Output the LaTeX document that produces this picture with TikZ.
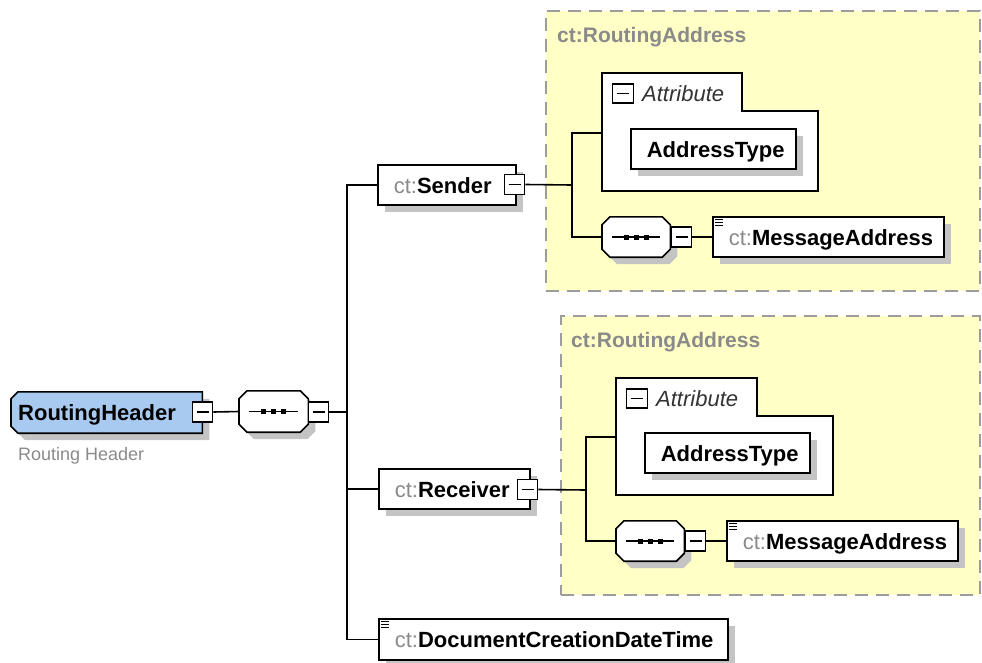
\documentclass[tikz,border=0pt]{standalone}
\usepackage{fontspec}
\setmainfont{Liberation Sans}
\usepackage{tikz}
\usetikzlibrary{shadows,backgrounds}
\definecolor{ShadowGray}{HTML}{C4C4C4}
\definecolor{PaleYellow}{HTML}{FFFFC6}
\definecolor{RootBlue}{HTML}{A8CAF0}
\definecolor{FrameGray}{HTML}{9C9C9C}
\definecolor{PrefixGray}{HTML}{8A8A8A}
\newcommand{\ctp}{\textcolor{PrefixGray}{\mdseries ct:}}

\tikzset{
  shade/.style={drop shadow={shadow xshift=7pt,shadow yshift=-7pt,fill=ShadowGray,opacity=1}},
  elemtext/.style={anchor=west,minimum height=40pt,inner xsep=16pt,inner ysep=0pt,align=left,
    font=\bfseries\fontsize{22}{26}\selectfont,text height=16pt,text depth=0pt},
  elem/.style={elemtext,draw,fill=white,shade,line width=1.6pt},
  seqbox/.style={anchor=west,minimum width=68pt,minimum height=40pt,inner sep=0pt},
  outline/.style={draw,fill=white,shade,line width=1.6pt},
  fold/.style={draw,fill=white,line width=1.4pt,minimum width=20pt,minimum height=20pt,inner sep=0pt,anchor=west},
  group/.style={draw=FrameGray,fill=PaleYellow,line width=1.8pt,dash pattern=on 13pt off 8pt,anchor=north west,inner sep=0pt},
  grouplabel/.style={anchor=west,inner sep=0pt,text=PrefixGray,font=\bfseries\fontsize{21}{25}\selectfont},
  attrbox/.style={draw,fill=white,line width=1.6pt},
  attrlabel/.style={anchor=west,inner sep=0pt,text=black!80,font=\itshape\fontsize{22}{26}\selectfont},
  conn/.style={line width=1.6pt},
}

\begin{document}
\begin{tikzpicture}[x=1pt,y=-1pt,line join=miter]
    \useasboundingbox (0,0) rectangle (982,662);

    % groups of the complex type
    \node[group,minimum width=434pt,minimum height=280pt] (grpA) at (545,10) {};
    \node[group,minimum width=419pt,minimum height=279pt] (grpB) at (560,315) {};
    \node[grouplabel] (grpAlbl) at (557,37) {ct:RoutingAddress};
    \node[grouplabel] (grpBlbl) at (571,342) {ct:RoutingAddress};

    % attribute frames
    \draw[attrbox] (602,73) -- (742,73) -- (742,111) -- (818,111) -- (818,191) -- (602,191) -- cycle;
    \draw[attrbox] (616,378) -- (757,378) -- (757,416) -- (833,416) -- (833,495) -- (616,495) -- cycle;
    \coordinate (attrA) at (602,133);
    \coordinate (attrB) at (616,437);
    \node[fold,minimum width=21pt,minimum height=19pt] (attrAm) at (612,93.5) {\rule{12pt}{1.4pt}};
    \node[fold,minimum width=21pt,minimum height=19pt] (attrBm) at (626,398.5) {\rule{12pt}{1.4pt}};
    \node[attrlabel] (attrAtxt) at (642,94) {Attribute};
    \node[attrlabel] (attrBtxt) at (656,399) {Attribute};

    % root element
    \node[elemtext,inner xsep=7pt,text width=177pt,minimum height=41pt] (root) at (11,412.5) {RoutingHeader};
    \begin{scope}[on background layer]
        \draw[outline,fill=RootBlue] ([xshift=7pt]root.north west) -- (root.north east) -- (root.south east)
            -- ([xshift=7pt]root.south west) -- ([yshift=7pt]root.south west) -- ([yshift=-7pt]root.north west) -- cycle;
    \end{scope}
    \node[anchor=west,inner sep=0pt,text=PrefixGray,font=\fontsize{18}{22}\selectfont] (rootdesc) at (18,456) {Routing Header};

    % sequence compartments
    \node[seqbox,minimum width=69pt,minimum height=41pt] (seq0) at (239,411.5) {};
    \node[seqbox] (seqA) at (602,237) {};
    \node[seqbox] (seqB) at (616,541) {};
    \foreach \s in {seq0,seqA,seqB} {
        \draw[outline] ([xshift=8pt]\s.north west) -- ([xshift=-8pt]\s.north east) -- ([yshift=-8pt]\s.north east)
            -- ([yshift=8pt]\s.south east) -- ([xshift=-8pt]\s.south east) -- ([xshift=8pt]\s.south west)
            -- ([yshift=8pt]\s.south west) -- ([yshift=-8pt]\s.north west) -- cycle;
        \draw[line width=1.4pt] ([xshift=10pt]\s.west) -- ([xshift=-10pt]\s.east);
        \foreach \d in {-10,0,10}
            \fill ([shift={(\d-2.5,-2.5)}]\s.center) rectangle +(5,5);
    }

    % elements
    \node[elem,text width=106pt] (sender) at (377,185) {\ctp Sender};
    \node[elem,text width=119pt] (receiver) at (378,489) {\ctp Receiver};
    \node[elem,text width=317pt,minimum height=41pt] (doc) at (378,639.5) {\ctp DocumentCreationDateTime};
    \node[elem,text width=133pt] (addrA) at (630,149) {AddressType};
    \node[elem,text width=199pt] (msgA) at (712,237) {\ctp MessageAddress};
    \node[elem,text width=133pt] (addrB) at (644,453) {AddressType};
    \node[elem,text width=199pt] (msgB) at (726,541) {\ctp MessageAddress};

    % collapse buttons
    \node[fold] (rootm) at (192,412) {\rule{12pt}{1.4pt}};
    \node[fold] (seq0m) at (308,412) {\rule{12pt}{1.4pt}};
    \node[fold] (senderm) at (504,184.5) {\rule{12pt}{1.4pt}};
    \node[fold] (receiverm) at (517,489.5) {\rule{12pt}{1.4pt}};
    \node[fold] (seqAm) at (671,237) {\rule{12pt}{1.4pt}};
    \node[fold] (seqBm) at (685,541) {\rule{12pt}{1.4pt}};

    % simple content marks
    \foreach \e in {msgA,msgB,doc}
        \foreach \k in {3,6,9}
            \draw[line width=1pt] ([shift={(3,\k)}]\e.north west) -- +(8,0);

    % connectors
    \coordinate (trunk) at (347,412);
    \draw[conn] (rootm.east) -- (seq0.west);
    \draw[conn] (seq0m.east) -- (trunk);
    \draw[conn] (sender.west) -| (trunk) |- (doc.west);
    \draw[conn] (receiver.west) -- (receiver.west -| trunk);

    \coordinate (jA) at (572,185);
    \draw[conn] (senderm.east) -- (jA);
    \draw[conn] (attrA) -| (jA) |- (seqA.west);
    \draw[conn] (seqAm.east) -- (msgA.west);

    \coordinate (jB) at (586,490);
    \draw[conn] (receiverm.east) -- (jB);
    \draw[conn] (attrB) -| (jB) |- (seqB.west);
    \draw[conn] (seqBm.east) -- (msgB.west);
\end{tikzpicture}
\end{document}
